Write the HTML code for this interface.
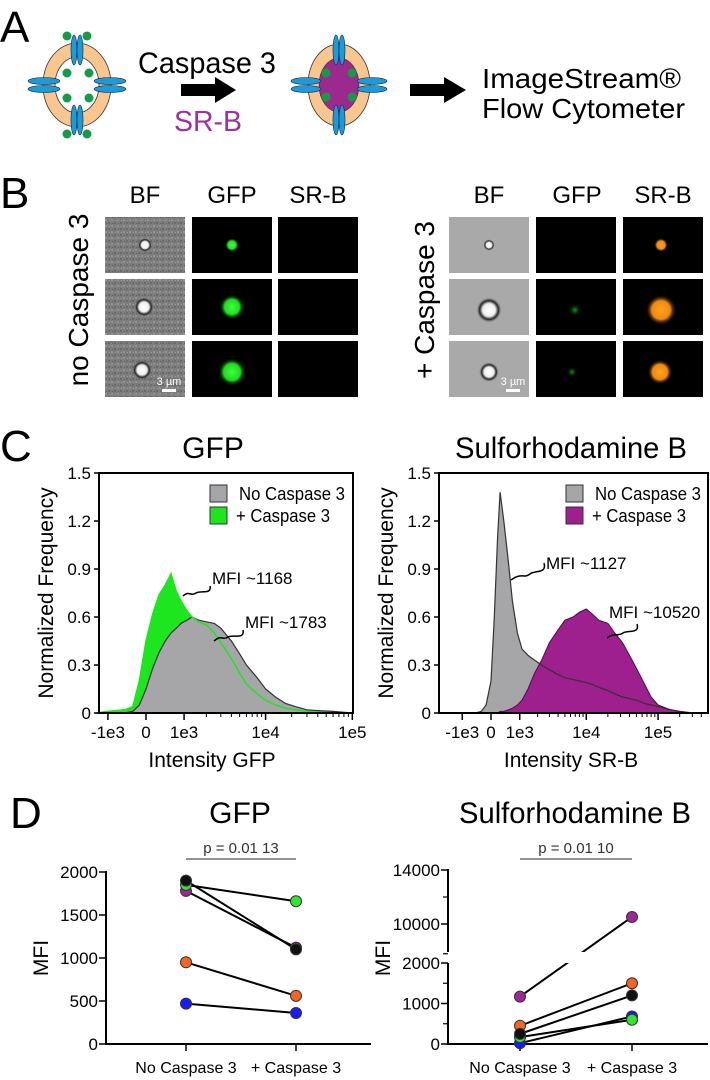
<!DOCTYPE html>
<html><head><meta charset="utf-8"><style>
html,body{margin:0;padding:0;background:#fff;}
svg{display:block;font-family:"Liberation Sans",Arial,sans-serif;}
</style></head><body>
<svg id="fig" width="710" height="1080" viewBox="0 0 710 1080" xmlns="http://www.w3.org/2000/svg">
<defs>
<radialGradient id="gG"><stop offset="0" stop-color="#3dff3d"/><stop offset="0.6" stop-color="#1fdc1f"/><stop offset="1" stop-color="#000" stop-opacity="0"/></radialGradient>
<radialGradient id="gGf"><stop offset="0" stop-color="#1a9a1a"/><stop offset="1" stop-color="#000" stop-opacity="0"/></radialGradient>
<radialGradient id="gO"><stop offset="0" stop-color="#ffa020"/><stop offset="0.6" stop-color="#f08a10"/><stop offset="1" stop-color="#000" stop-opacity="0"/></radialGradient>
<radialGradient id="gW"><stop offset="0" stop-color="#fff"/><stop offset="0.5" stop-color="#eee"/><stop offset="0.75" stop-color="#222"/><stop offset="1" stop-color="#888" stop-opacity="0"/></radialGradient>
<pattern id="noise" width="6" height="6" patternUnits="userSpaceOnUse"><rect width="6" height="6" fill="#7d7d7d"/><rect x="0" y="0" width="2" height="2" fill="#6a6a6a"/><rect x="3" y="3" width="2" height="2" fill="#929292"/><rect x="4" y="1" width="1" height="1" fill="#5f5f5f"/><rect x="1" y="4" width="1" height="1" fill="#999"/></pattern>
<clipPath id="brkLow"><rect x="440" y="963" width="270" height="100"/></clipPath>
<clipPath id="brkUp"><rect x="440" y="850" width="270" height="102"/></clipPath>
</defs>

<!-- Panel A -->
<text x="0" y="42" font-size="44">A</text>
<g>
  <ellipse cx="77" cy="85" rx="34" ry="42" fill="#f9c68f" stroke="#333" stroke-width="0.8"/>
  <ellipse cx="77" cy="85" rx="22" ry="28" fill="#fff" stroke="#333" stroke-width="0.8"/>
  <ellipse cx="74" cy="50" rx="3" ry="15" fill="#1e9ad6" stroke="#124" stroke-width="0.6"/>
  <ellipse cx="80" cy="50" rx="3" ry="15" fill="#1e9ad6" stroke="#124" stroke-width="0.6"/>
  <ellipse cx="74" cy="120" rx="3" ry="15" fill="#1e9ad6" stroke="#124" stroke-width="0.6"/>
  <ellipse cx="80" cy="120" rx="3" ry="15" fill="#1e9ad6" stroke="#124" stroke-width="0.6"/>
  <ellipse cx="44" cy="81" rx="16" ry="3.5" fill="#1e9ad6" stroke="#124" stroke-width="0.6"/>
  <ellipse cx="44" cy="89" rx="16" ry="3.5" fill="#1e9ad6" stroke="#124" stroke-width="0.6"/>
  <ellipse cx="110" cy="81" rx="16" ry="3.5" fill="#1e9ad6" stroke="#124" stroke-width="0.6"/>
  <ellipse cx="110" cy="89" rx="16" ry="3.5" fill="#1e9ad6" stroke="#124" stroke-width="0.6"/>
  <circle cx="67" cy="36" r="4.5" fill="#159a4a"/><circle cx="87" cy="36" r="4.5" fill="#159a4a"/>
  <circle cx="67" cy="134" r="4.5" fill="#159a4a"/><circle cx="87" cy="134" r="4.5" fill="#159a4a"/>
  <circle cx="67" cy="73" r="4.5" fill="#159a4a"/><circle cx="89" cy="73" r="4.5" fill="#159a4a"/>
  <circle cx="67" cy="98" r="4.5" fill="#159a4a"/><circle cx="89" cy="98" r="4.5" fill="#159a4a"/>
</g>
<text x="138" y="73" font-size="30" textLength="138" lengthAdjust="spacingAndGlyphs">Caspase 3</text>
<path d="M181 84 H215 V77 L236 90 L215 103 V96 H181 Z" fill="#000"/>
<text x="174" y="131" font-size="29" fill="#a0309a" textLength="68" lengthAdjust="spacingAndGlyphs">SR-B</text>
<g>
  <ellipse cx="339" cy="85" rx="31" ry="41" fill="#f9c68f" stroke="#333" stroke-width="0.8"/>
  <ellipse cx="339" cy="85" rx="20" ry="27" fill="#9c2a8e" stroke="#333" stroke-width="0.6"/>
  <ellipse cx="336" cy="50" rx="3" ry="15" fill="#1e9ad6" stroke="#124" stroke-width="0.6"/>
  <ellipse cx="342" cy="50" rx="3" ry="15" fill="#1e9ad6" stroke="#124" stroke-width="0.6"/>
  <ellipse cx="336" cy="120" rx="3" ry="15" fill="#1e9ad6" stroke="#124" stroke-width="0.6"/>
  <ellipse cx="342" cy="120" rx="3" ry="15" fill="#1e9ad6" stroke="#124" stroke-width="0.6"/>
  <ellipse cx="306" cy="81" rx="15" ry="3.5" fill="#1e9ad6" stroke="#124" stroke-width="0.6"/>
  <ellipse cx="306" cy="89" rx="15" ry="3.5" fill="#1e9ad6" stroke="#124" stroke-width="0.6"/>
  <ellipse cx="372" cy="81" rx="15" ry="3.5" fill="#1e9ad6" stroke="#124" stroke-width="0.6"/>
  <ellipse cx="372" cy="89" rx="15" ry="3.5" fill="#1e9ad6" stroke="#124" stroke-width="0.6"/>
  <circle cx="326" cy="73" r="4.5" fill="#159a4a"/><circle cx="352" cy="73" r="4.5" fill="#159a4a"/>
  <circle cx="326" cy="97" r="4.5" fill="#159a4a"/><circle cx="352" cy="97" r="4.5" fill="#159a4a"/>
</g>
<path d="M410 84 H444 V77 L466 90 L444 103 V96 H410 Z" fill="#000"/>
<text x="482" y="88" font-size="28" textLength="199" lengthAdjust="spacingAndGlyphs">ImageStream®</text>
<text x="482" y="118" font-size="28" textLength="203" lengthAdjust="spacingAndGlyphs">Flow Cytometer</text>

<!-- Panel B -->
<text x="0" y="208" font-size="44">B</text>
<g font-size="24" text-anchor="middle">
  <text x="145" y="203">BF</text><text x="232" y="203">GFP</text><text x="318" y="203">SR-B</text>
  <text x="489" y="203">BF</text><text x="577" y="203">GFP</text><text x="663" y="203">SR-B</text>
</g>
<text transform="translate(88,300) rotate(-90)" font-size="28" text-anchor="middle">no Caspase 3</text>
<text transform="translate(434,300) rotate(-90)" font-size="28" text-anchor="middle">+ Caspase 3</text>
<g id="micro"></g>

<!-- Panel C -->
<text x="0" y="461" font-size="44">C</text>
<text x="213" y="458" font-size="30" text-anchor="middle">GFP</text>
<text x="571" y="458" font-size="30" text-anchor="middle" textLength="232" lengthAdjust="spacingAndGlyphs">Sulforhodamine B</text>
<g id="histG"></g>
<g id="histS"></g>

<!-- Panel D -->
<text x="10" y="828" font-size="44">D</text>
<text x="240" y="823" font-size="30" text-anchor="middle">GFP</text>
<text x="575" y="823" font-size="30" text-anchor="middle" textLength="232" lengthAdjust="spacingAndGlyphs">Sulforhodamine B</text>
<g id="dotG"></g>
<g id="dotS"></g>
</svg>
<script>
// ===== Data =====
var gfpBins = [-1500,-1000,-500,-300,-150,0,150,300,450,600,750,900,1100,1300,1600,2000,2500,3000,4000,5000,6000,8000,10000,13000,17000,22000,30000,40000,60000,100000];
var gfpNoCasp = [0,0,0,0.01,0.05,0.15,0.28,0.38,0.45,0.5,0.53,0.56,0.58,0.6,0.58,0.57,0.56,0.53,0.45,0.37,0.3,0.22,0.15,0.1,0.06,0.04,0.02,0.015,0.01,0];
var gfpCasp = [0,0.01,0.02,0.04,0.2,0.45,0.62,0.74,0.8,0.87,0.76,0.7,0.64,0.6,0.57,0.55,0.5,0.44,0.34,0.25,0.18,0.12,0.08,0.05,0.03,0.02,0.01,0.005,0,0];
var srbBins = [-1500,-1000,-500,-300,-150,0,100,200,280,400,550,700,900,1100,1400,1800,2300,3000,4000,5000,6500,8000,10000,12000,15000,20000,25000,32000,40000,50000,65000,80000,100000,150000,200000,300000,500000];
var srbNoCasp = [0,0,0,0.01,0.05,0.2,0.6,1.1,1.38,1.2,0.95,0.7,0.5,0.4,0.36,0.33,0.3,0.27,0.24,0.22,0.21,0.2,0.19,0.18,0.16,0.14,0.12,0.1,0.09,0.08,0.06,0.05,0.04,0.02,0.01,0,0];
var srbCasp = [0,0,0,0,0,0,0,0,0.01,0.01,0.02,0.03,0.05,0.08,0.15,0.25,0.33,0.44,0.52,0.58,0.6,0.63,0.65,0.62,0.58,0.56,0.5,0.44,0.36,0.28,0.18,0.1,0.05,0.02,0.01,0,0];
var histTicks = [-1000,0,1000,10000,100000];
var histTickLabels = ["-1e3","0","1e3","1e4","1e5"];
var freqTicks = [0,0.3,0.6,0.9,1.2,1.5];

var mfiCategories = ["No Caspase 3","+ Caspase 3"];
var sampleColors = ["#111111","#2ee82e","#a0259a","#f26522","#1a1aff"];
var gfpMfiNo = [1900,1850,1780,950,470];
var gfpMfiCasp = [1100,1660,1120,560,360];
var srbMfiNo = [250,170,1170,450,20];
var srbMfiCasp = [1200,600,10520,1500,680];
var gfpMfiTicks = [0,500,1000,1500,2000];
var srbMfiTicks = [0,1000,2000,10000,14000];

var NS = "http://www.w3.org/2000/svg";
function mk(parent, tag, attrs, text){
  var e = document.createElementNS(NS, tag);
  for (var k in attrs) e.setAttribute(k, attrs[k]);
  if (text !== undefined) e.textContent = text;
  parent.appendChild(e);
  return e;
}

// ===== Micrographs =====
(function(){
  var g = document.getElementById('micro');
  var colsL = [105,192,278], colsR = [449,536,623], rows = [217,279,341], W = 80, H = 56;
  var spots = [
    [[[40,28,5,'gW'],[40,28,5,'gG'],null],[[40,28,4,'gW'],null,[38,28,5,'gO']]],
    [[[39,28,7,'gW'],[40,28,9,'gG'],null],[[40,31,9,'gW'],[39,31,5,'gGf'],[38,31,11,'gO']]],
    [[[37,29,7,'gW'],[40,31,10,'gG'],null],[[40,31,7,'gW'],[36,31,4,'gGf'],[37,31,9,'gO']]]
  ];
  for (var r = 0; r < 3; r++){
    for (var side = 0; side < 2; side++){
      var cols = side ? colsR : colsL;
      for (var c = 0; c < 3; c++){
        var x = cols[c], y = rows[r];
        var fill = c === 0 ? (side ? '#a9a9a9' : 'url(#noise)') : '#000';
        var rect = mk(g,'rect',{x:x,y:y,width:W,height:H,fill:fill});
        
        
        var s = spots[r][side][c];
        if (s){
          var sp = mk(g,'circle',{cx:x+s[0],cy:y+s[1],r:s[2]*1.4,fill:'url(#'+s[3]+')'});
          
          
        }
      }
    }
  }
  [[105,'3 µm'],[449,'3 µm']].forEach(function(d){
    var t = mk(g,'text',{x:d[0]+64,y:385,'font-size':11,fill:'#fff','text-anchor':'middle'},d[1]);
    
    
    var b = mk(g,'rect',{x:d[0]+57,y:389,width:14,height:3,fill:'#fff'});
    
    
  });
})();

// ===== Histograms =====
function drawHist(gid, cfg){
  var g = document.getElementById(gid);
  var L = cfg.left, R = cfg.right, T = 473, B = 713;
  function sx(v){ return cfg.x0 + cfg.k * Math.asinh(v / cfg.w); }
  function sy(f){ return B - f * (B - T) / 1.5; }
  function area(bins, vals){
    var d = 'M' + sx(bins[0]).toFixed(1) + ' ' + B;
    for (var i = 0; i < bins.length; i++){
      var x = Math.min(sx(bins[i]), R);
      d += ' L' + x.toFixed(1) + ' ' + sy(vals[i]).toFixed(1);
    }
    d += ' L' + Math.min(sx(bins[bins.length-1]), R).toFixed(1) + ' ' + B + ' Z';
    return d;
  }
  function line(bins, vals){
    var d = '';
    for (var i = 0; i < bins.length; i++){
      var x = Math.min(sx(bins[i]), R);
      d += (i ? ' L' : 'M') + x.toFixed(1) + ' ' + sy(vals[i]).toFixed(1);
    }
    return d;
  }
  var p;
  if (cfg.caspOnTop){
    p = mk(g,'path',{d:area(cfg.bins,cfg.no),fill:'#a6a6a8',stroke:'none'});
    
    
    p = mk(g,'path',{d:area(cfg.bins,cfg.casp),fill:cfg.color,stroke:'none'});
    
    
    p = mk(g,'path',{d:line(cfg.bins,cfg.no),fill:'none',stroke:'#333',"stroke-width":1.2});
    
    
    p = mk(g,'path',{d:line(cfg.bins,cfg.casp),fill:'none',stroke:'#4a1046',"stroke-width":1});
    
    
  } else {
    p = mk(g,'path',{d:area(cfg.bins,cfg.casp),fill:cfg.color,stroke:'none'});
    
    
    p = mk(g,'path',{d:area(cfg.bins,cfg.no),fill:'#a6a6a8',stroke:'none'});
    
    
    p = mk(g,'path',{d:line(cfg.bins,cfg.no),fill:'none',stroke:'#333',"stroke-width":1.2});
    
    
    p = mk(g,'path',{d:line(cfg.bins,cfg.casp),fill:'none',stroke:cfg.color,"stroke-width":1.5});
    
    
  }
  var fr = mk(g,'rect',{x:L,y:T,width:R-L,height:B-T,fill:'none',stroke:'#000','stroke-width':2});
  
  
  freqTicks.forEach(function(f){
    var t = mk(g,'line',{x1:L-5,x2:L,y1:sy(f),y2:sy(f),stroke:'#000','stroke-width':1.5});
    
    
    var lb = mk(g,'text',{x:L-8,y:sy(f)+6,'font-size':17,'text-anchor':'end'}, f === 0 ? '0' : f.toFixed(1));
    
    
  });
  histTicks.forEach(function(v,i){
    var x = sx(v);
    if (x > R + 1) return;
    var t = mk(g,'line',{x1:x,x2:x,y1:B,y2:B+7,stroke:'#000','stroke-width':1.5});
    
    
    var lb = mk(g,'text',{x:x,y:B+25,'font-size':17,'text-anchor':'middle'}, histTickLabels[i]);
    
    
  });
  [2000,3000,4000,5000,6000,7000,8000,9000,20000,30000,40000,50000,60000,70000,80000,90000,200000,300000,400000,500000].forEach(function(v){
    var x = sx(v);
    if (x > R) return;
    var t = mk(g,'line',{x1:x,x2:x,y1:B,y2:B+4,stroke:'#000','stroke-width':1});
    
    
  });
  var xt = mk(g,'text',{x:cfg.titleX,y:767,'font-size':21,'text-anchor':'middle'}, cfg.xTitle);
  
  
  var yt = mk(g,'text',{transform:'translate('+(L-46)+',593) rotate(-90)','font-size':21,'text-anchor':'middle'}, 'Normalized Frequency');
  
  
  var lx = cfg.legendX;
  [['#a6a6a8','No Caspase 3',485,106],[cfg.color,'+ Caspase 3',507,94]].forEach(function(e){
    var r = mk(g,'rect',{x:lx,y:e[2],width:17,height:17,fill:e[0],stroke:'#333','stroke-width':1});
    
    
    var tx = mk(g,'text',{x:lx + (e[1][0]==='+'?26:29),y:e[2]+15,'font-size':18,textLength:e[3],lengthAdjust:'spacingAndGlyphs'}, e[1]);
    
    
  });
  cfg.notes.forEach(function(n){
    var tx = mk(g,'text',{x:n[0],y:n[1],'font-size':17}, n[2]);
    
    
    var sq = mk(g,'path',{d:n[3],fill:'none',stroke:'#000','stroke-width':1.5});
    
    
  });
}
drawHist('histG',{left:99,right:353,x0:146,k:37.7,w:840,bins:gfpBins,no:gfpNoCasp,casp:gfpCasp,color:'#1ee61e',caspOnTop:false,
  titleX:212,xTitle:'Intensity GFP',legendX:210,
  notes:[[212,584,'MFI ~1168','M210 586 C212 595 200 590 196 593 C190 597 190 590 183 596'],
         [245,628,'MFI ~1783','M243 630 C245 640 232 634 228 637 C222 641 222 634 214 641']]});
drawHist('histS',{left:439,right:708,x0:491,k:31.2,w:945,bins:srbBins,no:srbNoCasp,casp:srbCasp,color:'#9e1f8e',caspOnTop:true,
  titleX:571,xTitle:'Intensity SR-B',legendX:566,
  notes:[[546,569,'MFI ~1127','M544 563 C547 574 535 570 530 574 C523 579 522 572 511 580'],
         [609,618,'MFI ~10520','M637 624 C640 634 628 630 623 633 C617 637 616 632 607 638']]});

// ===== MFI paired dot plots =====
function drawDots(gid, cfg){
  var g = document.getElementById(gid);
  var cx = cfg.catX;
  function sy(v){ return cfg.sy(v); }
  cfg.yAxisSegs.forEach(function(s){
    var a = mk(g,'line',{x1:cfg.axX,x2:cfg.axX,y1:s[0],y2:s[1],stroke:'#000','stroke-width':2});
    
    
  });
  var xa = mk(g,'line',{x1:cfg.axX-1,x2:cfg.axR,y1:1044,y2:1044,stroke:'#000','stroke-width':2});
  
  
  cfg.ticks.forEach(function(v){
    var t = mk(g,'line',{x1:cfg.axX-7,x2:cfg.axX,y1:sy(v),y2:sy(v),stroke:'#000','stroke-width':1.5});
    
    
    var lb = mk(g,'text',{x:cfg.axX-8,y:sy(v)+6,'font-size':17,'text-anchor':'end'}, String(v));
    
    
  });
  cfg.minor.forEach(function(v){
    var t = mk(g,'line',{x1:cfg.axX-5,x2:cfg.axX,y1:sy(v),y2:sy(v),stroke:'#000','stroke-width':1.2});
    
    
  });
  mfiCategories.forEach(function(c,i){
    var t = mk(g,'line',{x1:cx[i],x2:cx[i],y1:1044,y2:1051,stroke:'#000','stroke-width':1.5});
    
    
    var lb = mk(g,'text',{x:cx[i],y:1073,'font-size':16,'text-anchor':'middle'}, c);
    
    
  });
  var yt = mk(g,'text',{transform:'translate('+(cfg.axX-58)+',958) rotate(-90)','font-size':21,'text-anchor':'middle'}, 'MFI');
  
  
  var br = mk(g,'line',{x1:cx[0],x2:cx[1],y1:859,y2:859,stroke:'#555','stroke-width':1.2});
  
  
  var pt = mk(g,'text',{x:(cx[0]+cx[1])/2,y:853,'font-size':15,'text-anchor':'middle',fill:'#333'}, cfg.pText);
  
  
  cfg.no.forEach(function(v,i){
    var attrs = {x1:cx[0],x2:cx[1],y1:sy(v),y2:sy(cfg.casp[i]),stroke:'#000','stroke-width':2};
    if (cfg.clips){
      cfg.clips.forEach(function(cp){
        var a2 = Object.assign({}, attrs, {'clip-path':'url(#'+cp+')'});
        var ln = mk(g,'line',a2);
        
        
      });
    } else {
      var ln = mk(g,'line',attrs);
      
      
    }
  });
  for (var i = cfg.no.length - 1; i >= 0; i--){
    var d1 = mk(g,'circle',{cx:cx[0],cy:sy(cfg.no[i]),r:5.5,fill:sampleColors[i],stroke:'#333','stroke-width':1});
    
    
    var d2 = mk(g,'circle',{cx:cx[1],cy:sy(cfg.casp[i]),r:5.5,fill:sampleColors[i],stroke:'#333','stroke-width':1});
    
    
  }
}
drawDots('dotG',{axX:106,axR:371,catX:[186,296],no:gfpMfiNo,casp:gfpMfiCasp,ticks:gfpMfiTicks,minor:[],
  yAxisSegs:[[871,1045]],pText:'p = 0.01 13',
  sy:function(v){ return 1044 - v * 172 / 2000; }});
drawDots('dotS',{axX:448,axR:708,catX:[520,632],no:srbMfiNo,casp:srbMfiCasp,ticks:srbMfiTicks,minor:[500,1500,12000,7900],
  yAxisSegs:[[869,952],[963,1045]],pText:'p = 0.01 10',clips:['brkLow','brkUp'],
  sy:function(v){ return v <= 2000 ? 1044 - v * 81 / 2000 : (v < 9000 ? 963 - (v-2000)*(11/7000) : 924 - (v - 10000) * 54 / 4000); }});
</script>
</body></html>
